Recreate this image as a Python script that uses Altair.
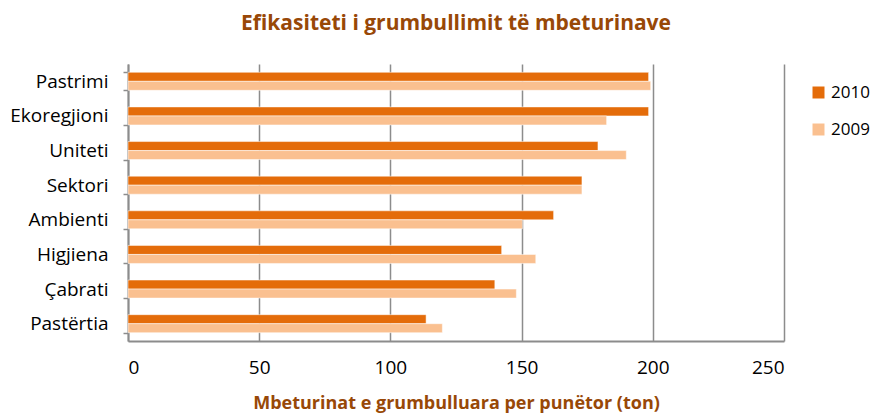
import altair as alt
import pandas as pd

categories = ["Pastrimi\u00a0", "Ekoregjioni", "Uniteti\u00a0", "Sektori", "Ambienti\u00a0",
              "Higjiena\u00a0", "Çabrati", "Pastërtia\u00a0"]
values_2010 = [198.4, 198.4, 179.1, 173.0, 162.2, 142.4, 139.8, 113.6]
values_2009 = [199.2, 182.4, 189.9, 173.0, 150.3, 155.4, 148.0, 119.8]
years = ["2010", "2009"]
colors = ["#E46C0A", "#FAC090"]

rows = []
for c, a, b in zip(categories, values_2010, values_2009):
    rows.append({"cat": c, "year": "2010", "value": a})
    rows.append({"cat": c, "year": "2009", "value": b})
df = pd.DataFrame(rows)

FONT = "Open Sans"
BROWN = "#984807"
GRAY = "#8c8c8c"

chart = alt.Chart(df).mark_bar(stroke="white", strokeWidth=0.5).encode(
    y=alt.Y("cat:N", sort=categories,
            scale=alt.Scale(paddingInner=0.48, paddingOuter=0.24),
            axis=alt.Axis(title=None, grid=False, tickBand="extent", ticks=True,
                          tickSize=5, tickColor=GRAY, tickWidth=1.5,
                          domainColor=GRAY, domainWidth=2,
                          labelFont=FONT, labelFontSize=19, labelColor="#000000",
                          labelPadding=15)),
    yOffset=alt.YOffset("year:N", sort=years),
    x=alt.X("value:Q", scale=alt.Scale(domain=[0, 250]),
            axis=alt.Axis(title="Mbeturinat e grumbulluara per punëtor (ton)",
                          values=[0, 50, 100, 150, 200, 250], ticks=False,
                          grid=True, gridColor=GRAY, gridWidth=1.5,
                          domainColor=GRAY, domainWidth=2,
                          labelFont=FONT, labelFontSize=19, labelColor="#000000",
                          labelPadding=17,
                          titleFont=FONT, titleFontSize=18, titleFontWeight="bold",
                          titleColor=BROWN, titlePadding=17)),
    color=alt.Color("year:N", scale=alt.Scale(domain=years, range=colors),
                    legend=alt.Legend(title=None, orient="none", legendX=682, legendY=20,
                                      symbolType="square", symbolSize=144,
                                      symbolStrokeWidth=0,
                                      labelFont=FONT, labelFontSize=17, labelColor="#000000",
                                      rowPadding=19, labelOffset=4)),
).properties(
    width=656,
    height=277,
    title=alt.TitleParams("Efikasiteti i grumbullimit të mbeturinave", font=FONT,
                          fontSize=21, fontWeight="bold", color=BROWN,
                          anchor="middle", offset=21),
    autosize=alt.AutoSizeParams(type="none"),
    padding={"left": 120, "top": 56, "right": 93, "bottom": 78},
).configure_view(stroke=None)

chart.save("out.html", embed_options={"renderer": "svg", "actions": False})
